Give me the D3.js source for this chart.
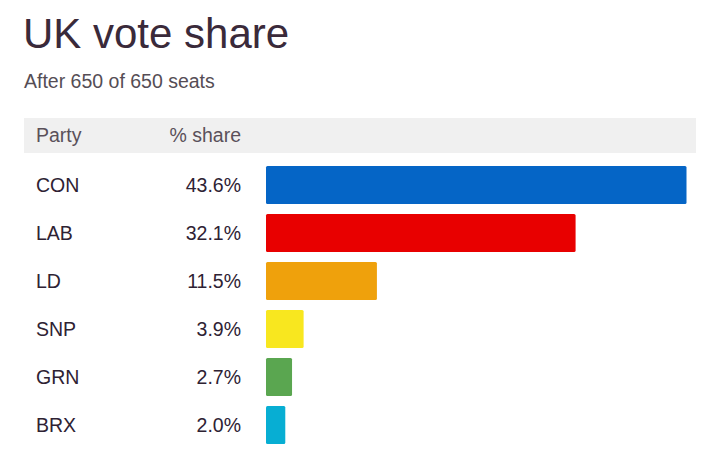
<!DOCTYPE html>
<html>
<head>
<meta charset="utf-8">
<script src="https://cdn.jsdelivr.net/npm/d3@7"></script>
<style>
  body { margin: 0; background: #fff; font-family: "Liberation Sans", Arial, sans-serif; }
</style>
</head>
<body>
<div id="chart"></div>
<script>
const parties = ["CON", "LAB", "LD", "SNP", "GRN", "BRX"];
const shares = [43.6, 32.1, 11.5, 3.9, 2.7, 2.0];
const colours = ["#0565c6", "#e80000", "#efa10c", "#f8e71f", "#5aa650", "#07aed3"];

const w = 716, h = 464;

const svg = d3.select("#chart")
    .append("svg")
    .attr("width", w)
    .attr("height", h);

const data = parties.map((p, i) => ({ party: p, share: shares[i], colour: colours[i] }));

const xScale = d3.scaleLinear()
    .domain([0, d3.max(shares)])
    .range([266, 686.5]);

const yScale = d3.scaleBand()
    .domain(parties)
    .range([166, 444])
    .paddingInner(10 / 48)
    .paddingOuter(0);

// title
svg.append("text")
    .attr("x", 23)
    .attr("y", 48)
    .attr("font-size", 42)
    .attr("fill", "#3a2a3a")
    .text("UK vote share");

svg.append("text")
    .attr("x", 24)
    .attr("y", 88)
    .attr("font-size", 19.5)
    .attr("fill", "#554d55")
    .text("After 650 of 650 seats");

// header band
svg.append("rect")
    .attr("x", 24)
    .attr("y", 118)
    .attr("width", 672)
    .attr("height", 35)
    .attr("fill", "#f0f0f0");

svg.append("text")
    .attr("x", 36)
    .attr("y", 142)
    .attr("font-size", 19.5)
    .attr("fill", "#5a505a")
    .text("Party");

svg.append("text")
    .attr("x", 241)
    .attr("y", 142)
    .attr("text-anchor", "end")
    .attr("font-size", 19.5)
    .attr("fill", "#5a505a")
    .text("% share");

// rows
const rows = svg.selectAll(".row")
    .data(data)
    .enter().append("g")
    .attr("class", "row");

rows.append("rect")
    .attr("x", xScale(0))
    .attr("y", d => yScale(d.party))
    .attr("width", d => xScale(d.share) - xScale(0))
    .attr("height", yScale.bandwidth())
    .attr("rx", 1.5)
    .attr("fill", d => d.colour);

rows.append("text")
    .attr("x", 36)
    .attr("y", d => yScale(d.party) + yScale.bandwidth() / 2)
    .attr("dy", "0.35em")
    .attr("font-size", 19.5)
    .attr("fill", "#2e2233")
    .text(d => d.party);

rows.append("text")
    .attr("x", 241)
    .attr("y", d => yScale(d.party) + yScale.bandwidth() / 2)
    .attr("dy", "0.35em")
    .attr("text-anchor", "end")
    .attr("font-size", 19.5)
    .attr("fill", "#2e2233")
    .text(d => d.share.toFixed(1) + "%");
</script>
</body>
</html>
